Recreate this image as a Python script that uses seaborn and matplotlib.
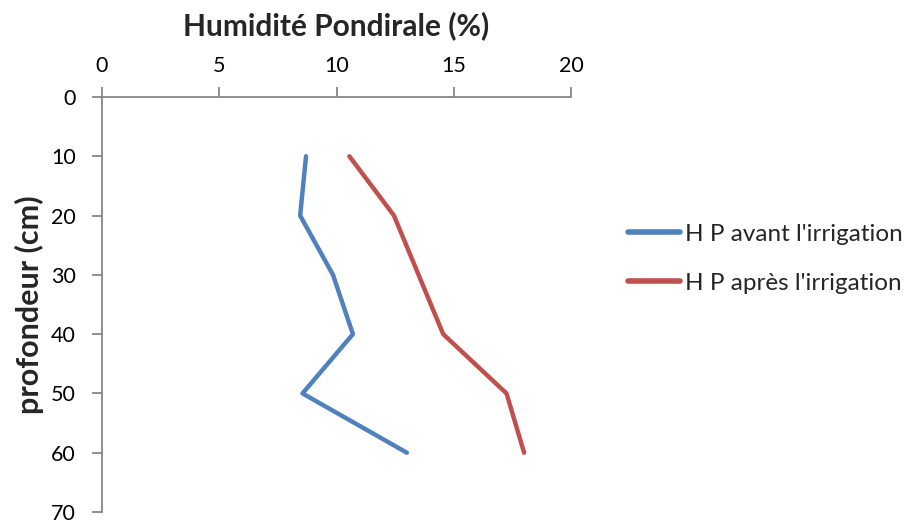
import matplotlib
matplotlib.use("Agg")
import matplotlib.pyplot as plt
import seaborn as sns
import pandas as pd

profondeur = [10, 20, 30, 40, 50, 60]
hp_avant = [8.7, 8.45, 9.85, 10.7, 8.55, 13.0]
hp_apres = [10.55, 12.45, 13.5, 14.55, 17.25, 18.0]
series = ["H P avant l'irrigation", "H P après l'irrigation"]
couleurs = ["#4F81BD", "#C0504D"]
x_ticks = [0, 5, 10, 15, 20]
y_ticks = [0, 10, 20, 30, 40, 50, 60, 70]

df = pd.concat([
    pd.DataFrame({"profondeur": profondeur, "hp": hp_avant, "serie": series[0]}),
    pd.DataFrame({"profondeur": profondeur, "hp": hp_apres, "serie": series[1]}),
])

sns.set_style("white")
plt.rcParams['font.family'] = ['Lato', 'DejaVu Sans']

fig = plt.figure(figsize=(9.05, 5.25), dpi=100)
ax = fig.add_axes([102/905, 1 - 512/525, (571-102)/905, (512-97)/525])

sns.lineplot(data=df, x="hp", y="profondeur", hue="serie", orient="y",
             palette=couleurs, hue_order=series, linewidth=3.2, ax=ax,
             solid_capstyle="round")

ax.set_xlim(0, 20)
ax.set_ylim(70, 0)
ax.set_xticks(x_ticks)
ax.set_yticks(y_ticks)
ax.xaxis.tick_top()
ax.xaxis.set_label_position("top")
gray = "#868686"
for s in ["right", "bottom"]:
    ax.spines[s].set_visible(False)
for s in ["left", "top"]:
    ax.spines[s].set_color(gray)
    ax.spines[s].set_linewidth(1.3)
ax.tick_params(axis="both", which="major", direction="out", length=7,
               width=1.3, color=gray, labelsize=15.5, labelcolor="black")
ax.tick_params(axis="x", top=True, bottom=False, labeltop=True, labelbottom=False, pad=8)
ax.tick_params(axis="y", left=True, pad=12)

ax.set_xlabel("Humidité Pondirale (%)", fontsize=21.5, fontweight="bold", labelpad=15)
ax.set_ylabel("profondeur (cm)", fontsize=22, fontweight="bold", labelpad=5)

leg = ax.legend(loc="center left", bbox_to_anchor=(1.121, 0.61), frameon=False,
                fontsize=17.5, handlelength=2.15, handletextpad=0.2, labelspacing=1.15,
                borderpad=0, borderaxespad=0)
for line in leg.get_lines():
    line.set_linewidth(4)
    line.set_solid_capstyle("round")

fig.savefig("out.png", dpi=100)
